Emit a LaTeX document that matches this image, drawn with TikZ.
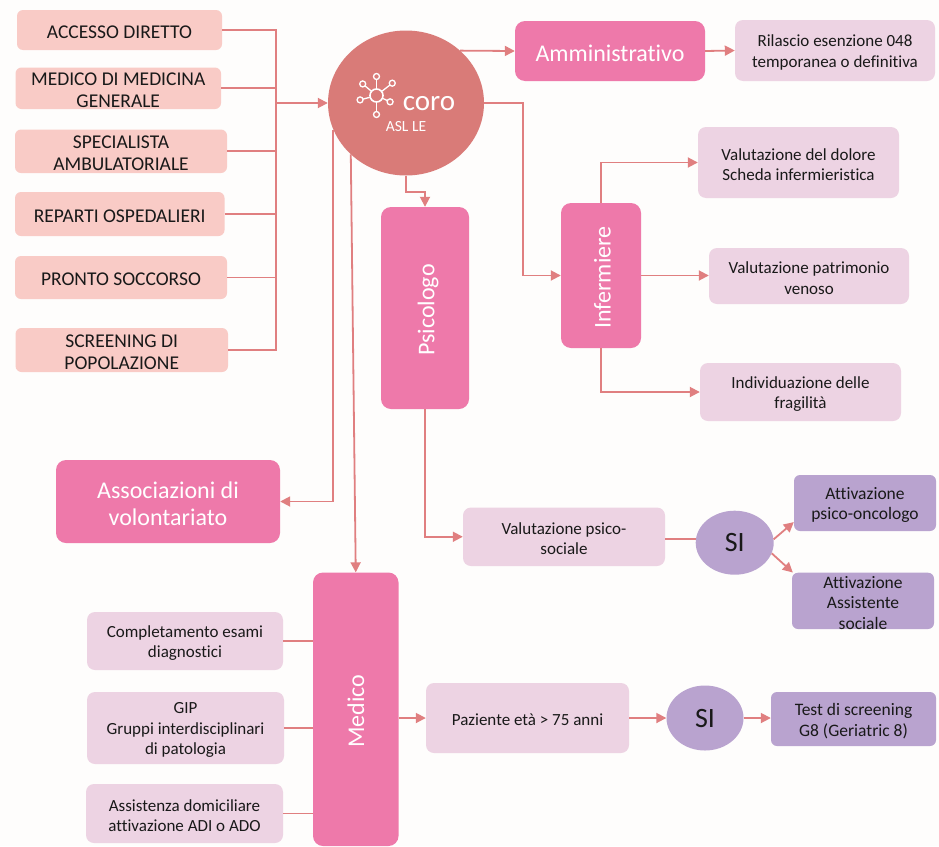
\documentclass[tikz,border=0pt]{standalone}
\usepackage{fontspec}
\setmainfont[Ligatures=NoCommon]{Carlito}
\usetikzlibrary{shapes.geometric,arrows.meta,calc}
\definecolor{bgc}{HTML}{FEFDFC}
\definecolor{salmon}{HTML}{F9CBC6}
\definecolor{corored}{HTML}{D97B78}
\definecolor{magentab}{HTML}{EE79AA}
\definecolor{lilac}{HTML}{EDD3E3}
\definecolor{purpleb}{HTML}{B9A3CF}
\definecolor{linkc}{HTML}{E07F80}
\tikzset{
  box/.style={rectangle,rounded corners=6pt,inner sep=0pt,align=center,text=black!90},
  srcbox/.style={box,fill=salmon,font=\fontsize{19.5}{21.5}\selectfont},
  rolebox/.style={box,fill=magentab,rounded corners=10pt,text=white,font=\fontsize{24}{27}\selectfont},
  subbox/.style={box,fill=lilac,rounded corners=8pt,font=\fontsize{17}{20.5}\selectfont},
  resbox/.style={box,fill=purpleb,font=\fontsize{17.5}{20.5}\selectfont},
  sinode/.style={ellipse,fill=purpleb,inner sep=0pt,text=black!90,font=\fontsize{28}{30}\selectfont},
  link/.style={draw=linkc,line width=1.8pt},
  arrowlink/.style={link,-{Triangle[length=10pt,width=10pt]}},
  iconline/.style={draw=white,line width=1.3pt},
  icondot/.style={circle,draw=white,line width=1.3pt,inner sep=0pt,minimum size=6pt}
}
% box shape with its text set slightly below the centre
\newcommand{\bx}[7]{%
  \pgfmathsetmacro\bw{#5-#3}\pgfmathsetmacro\bh{#6-#4}%
  \pgfmathsetmacro\bcx{(#5+#3)/2}\pgfmathsetmacro\bcy{(#6+#4)/2}%
  \node[#1,minimum width=\bw pt,minimum height=\bh pt] (#2) at (\bcx,\bcy) {};
  \node[#1,fill=none,yshift=-2pt] (#2-t) at (\bcx,\bcy) {#7};}
\begin{document}
\begin{tikzpicture}[x=1pt,y=-1pt]
\useasboundingbox (0,0) rectangle (939,846);
\fill[bgc] (0,0) rectangle (939,846);
\coordinate (bus) at (276,103);
\coordinate (turn) at (523,200);
% source boxes
\bx{srcbox}{acc}{17}{10}{222}{50}{ACCESSO DIRETTO}
\bx{srcbox}{mmg}{15.5}{67.5}{221}{109}{MEDICO DI MEDICINA\\GENERALE}
\bx{srcbox}{spe}{15}{129.5}{227}{173}{SPECIALISTA\\AMBULATORIALE}
\bx{srcbox}{rep}{15}{192}{224.5}{236}{REPARTI OSPEDALIERI}
\bx{srcbox}{pro}{15}{256}{227}{299}{PRONTO SOCCORSO}
\bx{srcbox}{scr}{15.5}{328}{228}{372}{SCREENING DI\\POPOLAZIONE}
% central ellipse
\node[ellipse,fill=corored,minimum width=156pt,minimum height=145pt,inner sep=0pt] (coro) at (406,103) {};
\node[text=white,font=\fontsize{29}{30}\selectfont,inner sep=0pt] (corot) at (429,103.5) {coro};
\node[text=white,font=\fontsize{15.5}{18}\selectfont,inner sep=0pt] (asl) at (406,127) {ASL LE};
% icon
\coordinate (ic) at (376.5,95.5);
\foreach \a/\l in {90/19,38/20,-25/15,-90/19,-165/17,140/18}{
  \draw[iconline] (ic) ++(\a:7pt) -- ++(\a:\l pt-10pt);
  \node[icondot] at ($(ic)+(\a:\l pt)$) {};
}
\node[circle,draw=white,line width=1.6pt,minimum size=13pt,inner sep=0pt] (hub) at (ic) {};
% roles
\bx{rolebox}{psi}{381}{207}{469}{409}{\hspace{6pt}\rotatebox{90}{Psicologo}}
\bx{rolebox}{amm}{515}{21}{705}{81}{Amministrativo}
\bx{rolebox}{inf}{561}{203}{641}{348}{\hspace{3pt}\rotatebox{90}{Infermiere}}
\bx{rolebox}{ass}{56}{460}{280}{543}{Associazioni di\\volontariato}
\bx{rolebox}{med}{313}{572.5}{398.5}{846}{\rotatebox{90}{Medico}}
% sub boxes
\bx{subbox}{ril}{735}{20}{935}{81}{Rilascio esenzione 048\\temporanea o definitiva}
\bx{subbox}{dol}{698}{127}{899}{198}{Valutazione del dolore\\Scheda infermieristica}
\bx{subbox}{pat}{709}{248}{909}{304}{Valutazione patrimonio\\venoso}
\bx{subbox}{fra}{700}{363}{901}{421}{Individuazione delle\\fragilità}
\bx{subbox}{vps}{463}{507.5}{665}{566}{Valutazione psico-\\sociale}
\bx{subbox}{paz}{426}{683}{629}{753}{Paziente età > 75 anni}
\bx{subbox}{com}{87}{612}{283}{670}{Completamento esami\\diagnostici}
\bx{subbox}{gip}{87}{692}{284}{764}{GIP\\Gruppi interdisciplinari\\di patologia}
\bx{subbox}{adi}{86}{784}{283}{843}{Assistenza domiciliare\\attivazione ADI o ADO}
% results
\node[sinode,minimum width=78pt,minimum height=64pt] (si1) at (734.7,542.7) {SI};
\node[sinode,minimum width=77pt,minimum height=65pt] (si2) at (705,718) {SI};
\bx{resbox}{apsi}{794}{475}{936}{531}{Attivazione\\psico-oncologo}
\bx{resbox}{aass}{792}{572.7}{934}{629}{Attivazione\\Assistente\\sociale}
\bx{resbox}{test}{771}{692}{936}{746}{Test di screening\\G8 (Geriatric 8)}
% links
\foreach \n in {acc,mmg,spe,rep,pro,scr}{\draw[link] (\n.east) -| (bus);}
\draw[arrowlink] (bus) -- (coro.west);
\draw[arrowlink] (coro.44) -- (amm.west);
\draw[arrowlink] (amm.east) -- (ril.west);
\draw[arrowlink] (coro.east) -| (turn) |- (inf.west);
\draw[arrowlink] (coro.south) -- ++(0,16) -| (psi.north);
\draw[arrowlink] (coro.200) |- (ass.east);
\draw[arrowlink] (coro.223) -- (med.north);
\draw[arrowlink] (psi.south) |- (vps.west);
\draw[link] ([yshift=-2pt]vps.east) -- ([yshift=-2pt]vps.east -| si1.west);
\draw[arrowlink] (si1.5) -- (apsi.195);
\draw[arrowlink] (si1.344) -- (aass.158);
\draw[arrowlink] (inf.north) |- (dol.west);
\draw[arrowlink] (inf.east) -- (inf.east -| pat.west);
\draw[arrowlink] (inf.south) |- (fra.west);
\draw[link] (com.east) -- (com.east -| med.west);
\draw[link] (gip.east) -- (gip.east -| med.west);
\draw[link] (adi.east) -- (adi.east -| med.west);
\draw[arrowlink] (paz.west -| med.east) -- (paz.west);
\draw[arrowlink] (paz.east) -- (si2.west);
\draw[arrowlink] (si2.east) -- (si2.east -| test.west);
\end{tikzpicture}
\end{document}
